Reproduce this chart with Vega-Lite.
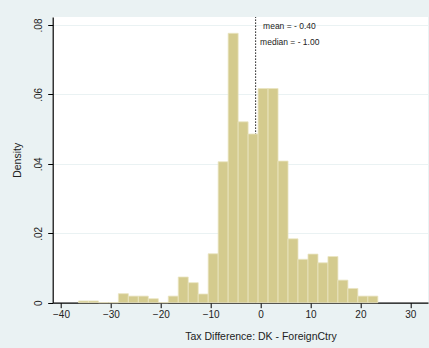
{
  "$schema": "https://vega.github.io/schema/vega-lite/v6.json",
  "width": 375.3,
  "height": 285.7,
  "autosize": "none",
  "padding": {"left": 52.7, "top": 17, "right": 1, "bottom": 45.3},
  "background": "#EAF2F3",
  "config": {
    "view": {"fill": "white", "stroke": null},
    "font": "Liberation Sans",
    "axis": {
      "labelFont": "Liberation Sans",
      "titleFont": "Liberation Sans",
      "labelColor": "#222222",
      "titleColor": "#222222",
      "titleFontWeight": "normal",
      "domainColor": "#000000",
      "tickColor": "#000000",
      "domainWidth": 1.2,
      "tickWidth": 1,
      "tickSize": 5,
      "labelFontSize": 10,
      "titleFontSize": 10.5
    }
  },
  "datasets": {
    "bins": [
      {"bin_start": -36.5, "bin_end": -34.5, "density": 0.0005},
      {"bin_start": -34.5, "bin_end": -32.5, "density": 0.0005},
      {"bin_start": -32.5, "bin_end": -30.5, "density": 0},
      {"bin_start": -30.5, "bin_end": -28.5, "density": 0},
      {"bin_start": -28.5, "bin_end": -26.5, "density": 0.0026},
      {"bin_start": -26.5, "bin_end": -24.5, "density": 0.0019},
      {"bin_start": -24.5, "bin_end": -22.5, "density": 0.0019},
      {"bin_start": -22.5, "bin_end": -20.5, "density": 0.00115},
      {"bin_start": -20.5, "bin_end": -18.5, "density": 0},
      {"bin_start": -18.5, "bin_end": -16.5, "density": 0.0019},
      {"bin_start": -16.5, "bin_end": -14.5, "density": 0.0074},
      {"bin_start": -14.5, "bin_end": -12.5, "density": 0.00576},
      {"bin_start": -12.5, "bin_end": -10.5, "density": 0.0025},
      {"bin_start": -10.5, "bin_end": -8.5, "density": 0.0141},
      {"bin_start": -8.5, "bin_end": -6.5, "density": 0.0406},
      {"bin_start": -6.5, "bin_end": -4.5, "density": 0.0776},
      {"bin_start": -4.5, "bin_end": -2.5, "density": 0.0521},
      {"bin_start": -2.5, "bin_end": -0.5, "density": 0.0486},
      {"bin_start": -0.5, "bin_end": 1.5, "density": 0.0617},
      {"bin_start": 1.5, "bin_end": 3.5, "density": 0.0617},
      {"bin_start": 3.5, "bin_end": 5.5, "density": 0.0408},
      {"bin_start": 5.5, "bin_end": 7.5, "density": 0.0184},
      {"bin_start": 7.5, "bin_end": 9.5, "density": 0.0125},
      {"bin_start": 9.5, "bin_end": 11.5, "density": 0.014},
      {"bin_start": 11.5, "bin_end": 13.5, "density": 0.0115},
      {"bin_start": 13.5, "bin_end": 15.5, "density": 0.0133},
      {"bin_start": 15.5, "bin_end": 17.5, "density": 0.0065},
      {"bin_start": 17.5, "bin_end": 19.5, "density": 0.0041},
      {"bin_start": 19.5, "bin_end": 21.5, "density": 0.0019},
      {"bin_start": 21.5, "bin_end": 23.5, "density": 0.0019}
    ],
    "stats": [
      {"stat": "median", "value": -1.0}
    ],
    "labels": [
      {"label": "mean = - 0.40", "value": -0.4, "y": 0.0798},
      {"label": "median = - 1.00", "value": -1.0, "y": 0.0750}
    ]
  },
  "layer": [
    {
      "data": {"name": "stats"},
      "mark": {"type": "rule", "color": "#000000", "strokeDash": [1.2, 1.8], "strokeWidth": 1.1},
      "encoding": {
        "x": {"field": "value", "type": "quantitative", "scale": {"domain": [-41.66, 33.55], "nice": false, "zero": false}},
        "y": {"datum": 0, "type": "quantitative"},
        "y2": {"datum": 0.0823}
      }
    },
    {
      "data": {"name": "bins"},
      "mark": {"type": "bar", "fill": "#D4CB8E", "stroke": "#EAE5C2", "strokeWidth": 0.8},
      "encoding": {
        "x": {
          "field": "bin_start", "type": "quantitative",
          "scale": {"domain": [-41.66, 33.55], "nice": false, "zero": false},
          "axis": {
            "values": [-40, -30, -20, -10, 0, 10, 20, 30],
            "grid": false,
            "labelPadding": 2,
            "title": "Tax Difference: DK - ForeignCtry",
            "titleX": 207.8,
            "titleY": 34,
            "titleAlign": "center",
            "titleBaseline": "middle"
          }
        },
        "x2": {"field": "bin_end"},
        "y": {
          "field": "density", "type": "quantitative",
          "scale": {"domain": [0, 0.0823], "nice": false},
          "axis": {
            "values": [0, 0.02, 0.04, 0.06, 0.08],
            "labelExpr": "datum.value == 0 ? '0' : replace(format(datum.value, '.2f'), '0.', '.')",
            "labelAngle": 270,
            "labelAlign": "center",
            "labelBaseline": "bottom",
            "labelPadding": 4,
            "grid": true,
            "gridColor": "#EAF2F3",
            "gridWidth": 1.2,
            "title": "Density",
            "titleAngle": 270,
            "titleX": -35,
            "titleY": 142.85,
            "titleAlign": "center",
            "titleBaseline": "middle"
          }
        },
        "y2": {"datum": 0}
      }
    },
    {
      "data": {"name": "labels"},
      "mark": {"type": "text", "align": "left", "baseline": "middle", "fontSize": 8.5, "fill": "#222222", "dx": 4.5},
      "encoding": {
        "x": {"field": "value", "type": "quantitative"},
        "y": {"field": "y", "type": "quantitative"},
        "text": {"field": "label"}
      }
    }
  ]
}
